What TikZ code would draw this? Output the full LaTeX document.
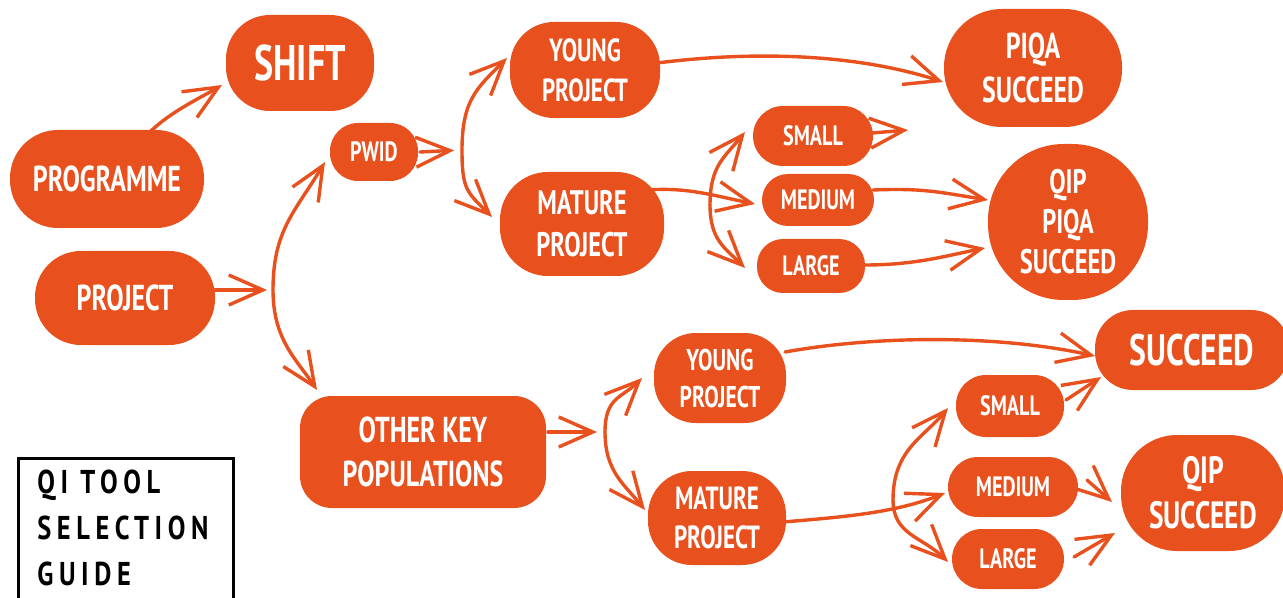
\documentclass[tikz,border=0pt]{standalone}
\usepackage{fontspec}
\setmainfont{PT Sans}[FakeStretch=0.72]
\newfontfamily\legendfont{PT Sans Bold}[FakeStretch=0.8,LetterSpace=17]
\usetikzlibrary{arrows.meta,calc}
\definecolor{orng}{RGB}{232,81,30}
\tikzset{
  blob/.style={fill=orng, text=white, align=center, inner sep=0pt,
    rounded corners=#1},
  arr/.style={draw=orng, line width=1.7pt, line cap=round,
    -{Straight Barb[length=17pt,width=15pt,line width=1.7pt]}},
  fbig/.style={font=\bfseries\fontsize{25}{28}\selectfont},
  fmid/.style={font=\bfseries\fontsize{18}{22}\selectfont},
  fsm/.style={font=\bfseries\fontsize{14}{17}\selectfont},
}
\begin{document}
\begin{tikzpicture}[x=0.5pt,y=-0.5pt]
\clip (0,0) rectangle (1283,598);
\fill[white] (0,0) rectangle (1283,598);

% nodes
\node[blob=22pt, minimum width=74pt, minimum height=48pt, fbig] (shift) at (300,63) {SHIFT};
\node[blob=24pt, minimum width=97pt, minimum height=49pt, fmid] (prog) at (107,179) {PROGRAMME};
\node[blob=23pt, minimum width=90pt, minimum height=47pt, fmid] (proj) at (125,298) {PROJECT};
\node[blob=14pt, minimum width=44pt, minimum height=29pt, fsm] (pwid) at (374,152) {PWID};
\node[blob=22pt, minimum width=75pt, minimum height=48pt, font=\bfseries\fontsize{16}{20}\selectfont] (young1) at (585,70) {YOUNG\\PROJECT};
\node[blob=24pt, minimum width=82pt, minimum height=52pt, font=\bfseries\fontsize{17}{21}\selectfont] (mature1) at (582,224) {MATURE\\PROJECT};
\node[blob=15pt, minimum width=60pt, minimum height=30pt, fsm] (small1) at (813,136) {SMALL};
\node[blob=13pt, minimum width=56pt, minimum height=26pt, fsm] (medium1) at (818,200) {MEDIUM};
\node[blob=13pt, minimum width=54pt, minimum height=27pt, fsm] (large1) at (811,266) {LARGE};
\node[blob=29pt, minimum width=89pt, minimum height=59pt, font=\bfseries\fontsize{18}{22}\selectfont] (piqa) at (1033,68) {PIQA\\SUCCEED};
\node[blob=38pt, minimum width=80pt, minimum height=78pt, font=\bfseries\fontsize{17}{20}\selectfont] (qip1) at (1068,222) {QIP\\PIQA\\SUCCEED};
\node[blob=16pt, minimum width=123pt, minimum height=56pt, font=\bfseries\fontsize{18}{22}\selectfont] (other) at (423,452) {OTHER KEY\\POPULATIONS};
\node[blob=21pt, minimum width=66pt, minimum height=45pt, font=\bfseries\fontsize{15}{18.5}\selectfont] (young2) at (720,378) {YOUNG\\PROJECT};
\node[blob=22pt, minimum width=69pt, minimum height=47pt, font=\bfseries\fontsize{16}{19.5}\selectfont] (mature2) at (717,518) {MATURE\\PROJECT};
\node[blob=19pt, minimum width=97pt, minimum height=40pt, font=\bfseries\fontsize{22}{24}\selectfont] (succeed2) at (1192,350) {SUCCEED};
\node[blob=15pt, minimum width=54pt, minimum height=31pt, fsm] (small2) at (1010,406) {SMALL};
\node[blob=15pt, minimum width=65pt, minimum height=30pt, fsm] (medium2) at (1013,487) {MEDIUM};
\node[blob=15pt, minimum width=56pt, minimum height=30pt, fsm] (large2) at (1008,559) {LARGE};
\node[blob=28pt, minimum width=82pt, minimum height=58pt, font=\bfseries\fontsize{19}{22.5}\selectfont] (qip2) at (1203,493) {QIP\\SUCCEED};

% fork points and free ends
\coordinate (f1) at (273,290);
\coordinate (f2) at (462,150);
\coordinate (f3) at (710,205);
\coordinate (f4) at (605,432);
\coordinate (f5) at (893,500);
\coordinate (s1end) at (908,130);

% connectors
\draw[arr] ($(prog)+(43,-47)$) .. controls +(20,-20) and +(-20,12) .. ($(shift)+(-78,22)$);
\draw[arr, shorten >=3pt] ($(proj)+(90,-8)$) -- (f1);
\draw[arr] (f1) .. controls +(0,-60) and +(-30,50) .. ($(pwid)+(-49,10)$);
\draw[arr] (f1) .. controls +(0,50) and +(-20,-30) .. ($(other)+(-106,-62)$);

\draw[arr, shorten >=4pt] ($(pwid)+(46,0)$) -- (f2);
\draw[arr] (f2) .. controls +(0,-50) and +(-30,30) .. ($(young1)+(-78,-12)$);
\draw[arr] (f2) .. controls +(0,40) and +(-25,-25) .. ($(mature1)+(-90,-7)$);

\draw[arr] ($(young1)+(72,-7)$) .. controls +(103,-13) and +(-83,-27) .. ($(piqa)+(-90,14)$);
\draw[arr] ($(mature1)+(66,-34)$) .. controls +(40,-3) and +(-40,-8) .. ($(medium1)+(-63,4)$);
\draw[arr] (f3) .. controls +(0,-40) and +(-20,25) .. ($(small1)+(-68,-4)$);
\draw[arr] (f3) .. controls +(0,35) and +(-20,-20) .. ($(large1)+(-66,2)$);

\draw[arr] ($(small1)+(59,-3)$) -- (s1end);
\draw[arr] ($(medium1)+(55,-10)$) .. controls +(50,-2) and +(-50,-8) .. ($(qip1)+(-80,-22)$);
\draw[arr] ($(large1)+(54,-1)$) .. controls +(50,0) and +(-40,8) .. ($(qip1)+(-83,26)$);

\draw[arr, shorten >=4pt] ($(other)+(125,-20)$) -- (f4);
\draw[arr] (f4) .. controls +(0,-35) and +(-20,20) .. ($(young2)+(-78,0)$);
\draw[arr] (f4) .. controls +(0,40) and +(-20,-25) .. ($(mature2)+(-72,-8)$);

\draw[arr] ($(young2)+(65,-26)$) .. controls +(95,-17) and +(-95,-21) .. ($(succeed2)+(-97,6)$);
\draw[arr] ($(mature2)+(66,4)$) .. controls +(60,-5) and +(-50,20) .. ($(medium2)+(-68,6)$);
\draw[arr] (f5) .. controls +(0,-50) and +(-25,30) .. ($(small2)+(-62,2)$);
\draw[arr] (f5) .. controls +(0,35) and +(-25,-25) .. ($(large2)+(-60,3)$);

\draw[arr] ($(small2)+(56,-6)$) -- ($(succeed2)+(-91,27)$);
\draw[arr] ($(medium2)+(74,-7)$) -- ($(qip2)+(-91,9)$);
\draw[arr] ($(large2)+(66,-2)$) -- ($(qip2)+(-88,40)$);

% legend
\draw[line width=1.5pt] (18,620) -- (18,458) -- (233,458) -- (233,620);
\node[anchor=north west, align=left, inner sep=0pt,
  font=\legendfont\fontsize{16.5}{23}\selectfont] (legend) at (37,470)
  {QI TOOL\\SELECTION\\GUIDE};
\end{tikzpicture}
\end{document}
